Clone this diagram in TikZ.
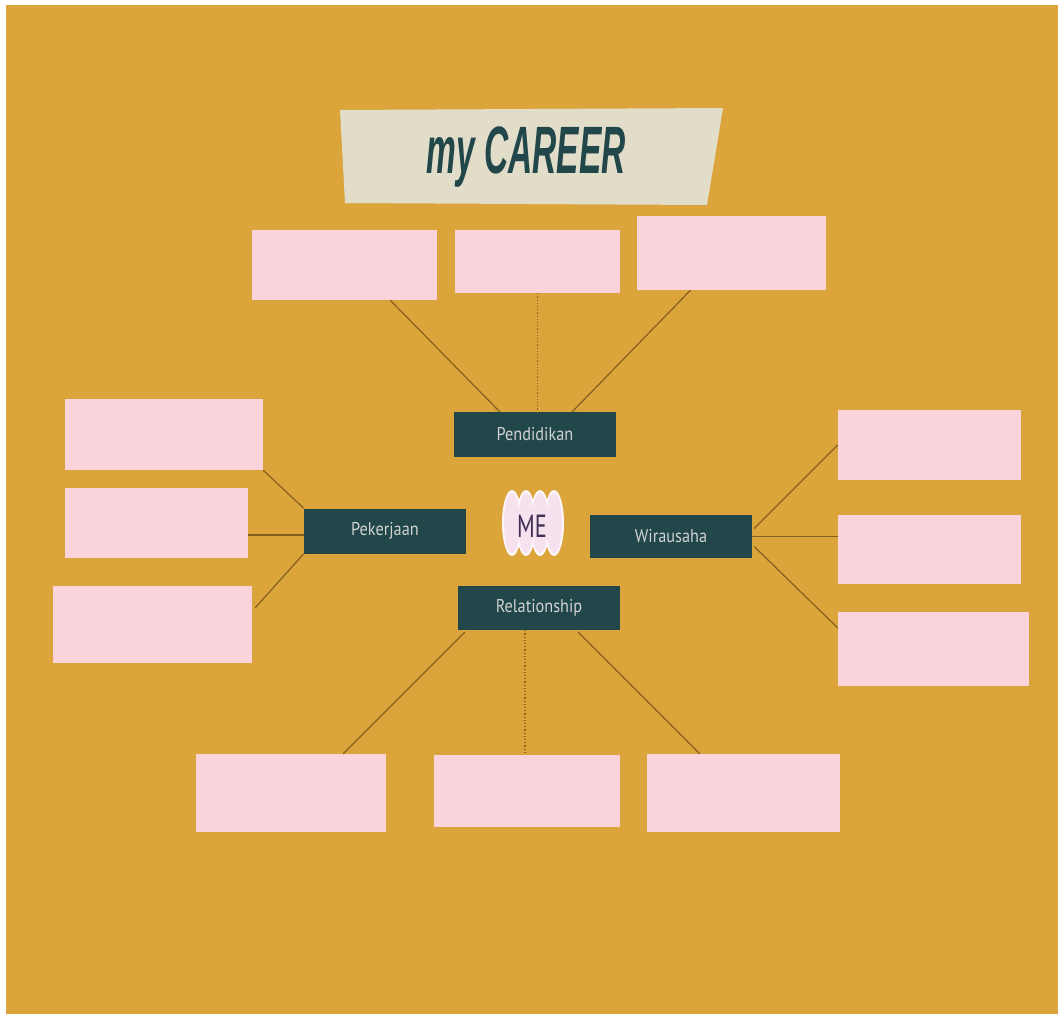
\documentclass[tikz,border=0pt]{standalone}
\usepackage{fontspec}
\usetikzlibrary{positioning,calc}
\newfontfamily\labelfont{PT Sans}[FakeStretch=0.88]
\newfontfamily\mefont{PT Sans}[FakeStretch=0.7]
\newfontfamily\titlefont{Liberation Sans}[FakeStretch=0.5]
\definecolor{bgorange}{HTML}{DBA53B}
\definecolor{boxpink}{HTML}{FBD3DA}
\definecolor{tealdark}{HTML}{21474A}
\definecolor{tapebeige}{HTML}{E2DDC9}
\definecolor{linebrown}{HTML}{85601E}
\definecolor{mepink}{HTML}{F6E2EE}
\definecolor{mepurple}{HTML}{3F2F55}
\begin{document}
\begin{tikzpicture}[x=1pt,y=-1pt,
    idea/.style={fill=boxpink,inner sep=0pt},
    topic/.style={fill=tealdark,inner sep=0pt,minimum width=162,minimum height=45,
      text=white!82!black,font=\labelfont\fontsize{18.5}{20}\selectfont},
    link/.style={draw=linebrown,line width=1.2pt},
    dotlink/.style={link,dotted}]
        \useasboundingbox (0,0) rectangle (1058,1014);
        \fill[white] (0,0) rectangle (1058,1014);
        \fill[bgorange] (6,5) rectangle (1058,1014);
        \fill[tapebeige] (340,110) -- (723,108) -- (707,205) -- (345,203) -- cycle;
        \node[text=tealdark,font=\titlefont\bfseries\itshape\fontsize{67}{70}\selectfont] (title) at (526,157) {my CAREER};
        \node[idea,minimum width=185,minimum height=70] (t1) at (344.5,265) {};
        \node[idea,minimum width=165,minimum height=63] (t2) at (537.5,261.5) {};
        \node[idea,minimum width=189,minimum height=74] (t3) at (731.5,253) {};
        \node[idea,minimum width=198,minimum height=71] (l1) at (164,434.5) {};
        \node[idea,minimum width=183,minimum height=70] (l2) at (156.5,523) {};
        \node[idea,minimum width=199,minimum height=77] (l3) at (152.5,624.5) {};
        \node[idea,minimum width=183,minimum height=70] (r1) at (929.5,445) {};
        \node[idea,minimum width=183,minimum height=69] (r2) at (929.5,549.5) {};
        \node[idea,minimum width=191,minimum height=74] (r3) at (933.5,649) {};
        \node[idea,minimum width=190,minimum height=78] (b1) at (291,793) {};
        \node[idea,minimum width=186,minimum height=72] (b2) at (527,791) {};
        \node[idea,minimum width=193,minimum height=78] (b3) at (743.5,793) {};
        \node[topic] (pend) at (535,434.5) {Pendidikan};
        \node[topic] (pek) at (385,531) {Pekerjaan};
        \node[topic,minimum height=43] (wira) at (671,536.5) {Wirausaha};
        \node[topic,minimum height=44] (rel) at (539,608) {Relationship};
        \foreach \cx in {512,526,540,554}
          \fill[white!70!mepink] (\cx,523) ellipse (10 and 33);
        \foreach \cx in {512,526,540,554}
          \fill[mepink] (\cx,523) ellipse (8 and 30);
        \node[text=mepurple,font=\mefont\fontsize{32}{34}\selectfont] (me) at (532,526) {ME};
        \draw[link] ($(t1.south east)+(-47,0)$) -- ($(pend.north west)+(46,0)$);
        \draw[dotlink] (t2.south) -- (t2.south |- pend.north);
        \draw[link] ($(t3.south)+(-41,0)$) -- ($(pend.north east)+(-44,0)$);
        \draw[link] (l1.south east) -- (pek.north west);
        \draw[link] ($(pek.west)+(0,4)$) -- ($(pek.west -| l2.east)+(0,4)$);
        \draw[link] (pek.south west) -- ($(l3.north east)+(3,22)$);
        \draw[link] ($(wira.east)+(2,-8)$) -- (r1.west);
        \draw[link] (wira.east) -- (wira.east -| r2.west);
        \draw[link] ($(wira.east)+(2,10)$) -- ($(r3.west)+(0,-21)$);
        \draw[link] ($(rel.south west)+(7,2)$) -- ($(b1.north east)+(-43,0)$);
        \draw[dotlink] ($(rel.south)+(-14,0)$) -- ($(b2.north)+(-2,0)$);
        \draw[link] ($(rel.south east)+(-42,2)$) -- ($(b3.north west)+(53,0)$);
\end{tikzpicture}
\end{document}
